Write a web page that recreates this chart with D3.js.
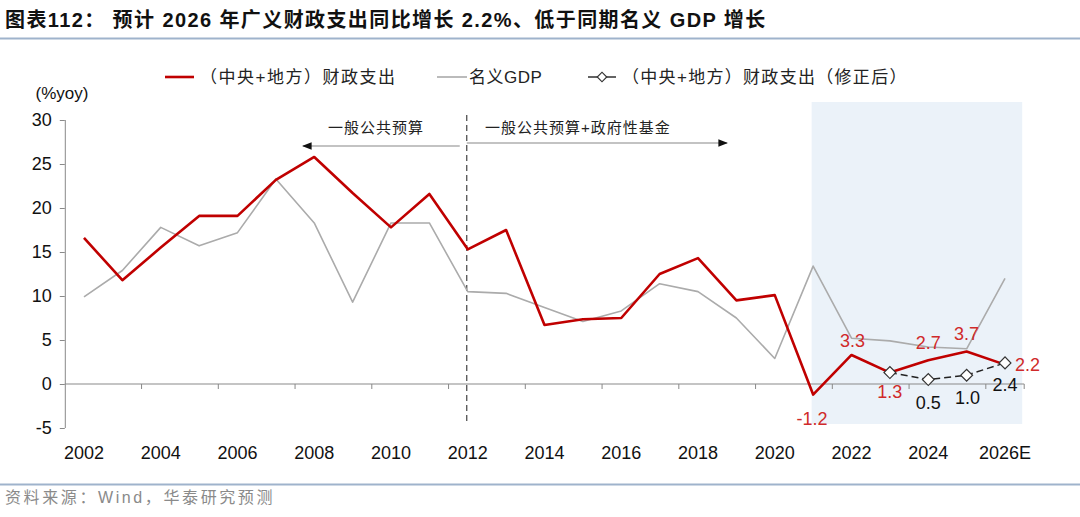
<!DOCTYPE html>
<html><head><meta charset="utf-8">
<script src="https://cdn.jsdelivr.net/npm/d3@7/dist/d3.min.js"></script>
<style>
html,body{margin:0;padding:0;background:#fff;}
svg{display:block;}
text{font-family:"Liberation Sans",Arial,"Noto Sans CJK SC",sans-serif;}
.cjk{font-family:"Liberation Sans","Noto Sans CJK SC",sans-serif;}
</style></head>
<body>
<script>
const years = ["2002","2003","2004","2005","2006","2007","2008","2009","2010","2011","2012","2013","2014","2015","2016","2017","2018","2019","2020","2021","2022","2023","2024","2025","2026E"];
const xTickLabels = ["2002","2004","2006","2008","2010","2012","2014","2016","2018","2020","2022","2024","2026E"];
const fiscal = [16.6,11.8,15.5,19.1,19.1,23.2,25.8,21.7,17.8,21.6,15.3,17.5,6.7,7.35,7.5,12.5,14.3,9.5,10.1,-1.2,3.3,1.3,2.7,3.7,2.2];
const gdp = [9.9,12.9,17.8,15.7,17.2,23.3,18.3,9.3,18.3,18.3,10.5,10.3,8.7,7.1,8.3,11.4,10.5,7.5,2.9,13.4,5.2,4.9,4.2,4.0,12.0];
const adjYears = ["2023","2024","2025","2026E"];
const adjusted = [1.3,0.5,1.0,2.4];
const fiscalLabelYears = ["2021","2022","2023","2024","2025","2026E"];
const adjLabelYears = ["2024","2025","2026E"];
const yTicks = [-5,0,5,10,15,20,25,30];
const seriesNames = ["（中央+地方）财政支出","名义GDP","（中央+地方）财政支出（修正后）"];
const titleText = "图表112：  预计 2026 年广义财政支出同比增长 2.2%、低于同期名义 GDP 增长";
const sourceText = "资料来源：Wind，华泰研究预测";
const yUnit = "(%yoy)";
const annoLeft = "一般公共预算";
const annoRight = "一般公共预算+政府性基金";
const shadeFrom = "2021", shadeTo = "2026E";
const splitYear = "2012";

const W = 1080, H = 517;
const RED = "#C00000", LBL_RED = "#D02A2A", GRAY = "#ABABAB", AXIS = "#898989";
const svg = d3.select("body").append("svg").attr("width", W).attr("height", H);

const x = d3.scaleBand().domain(years).range([64.8, 1024.2]).padding(0);
const cx = d => x(d) + x.bandwidth()/2;
const y = d3.scaleLinear().domain([-5, 30]).range([428, 120]);
const fmt = v => { const s = Math.abs(v).toFixed(1); return (v < 0 ? "-" : "") + s; };

// title
svg.append("text").attr("x", 5).attr("y", 27).attr("font-size", 20).attr("font-weight", "bold")
  .attr("class","cjk").attr("letter-spacing", 1.4).attr("fill", "#111").text(titleText);
svg.append("line").attr("x1", 0).attr("x2", W).attr("y1", 38.5).attr("y2", 38.5)
  .attr("stroke", "#9fb3cc").attr("stroke-width", 2);

// shaded forecast area
svg.append("rect").attr("x", cx(shadeFrom) - 1.5).attr("y", 102)
  .attr("width", x(shadeTo) + x.bandwidth() - 2 - (cx(shadeFrom) - 1.5)).attr("height", 322)
  .attr("fill", "#EBF2F9");

// y axis
const yAxis = d3.axisLeft(y).tickValues(yTicks).tickSize(5).tickPadding(8).tickFormat(d => String(d));
const ya = svg.append("g").attr("transform", "translate(64.8,0)").call(yAxis);
ya.select(".domain").attr("stroke", AXIS).attr("d", "M0.5,120V428");
ya.selectAll(".tick line").attr("stroke", AXIS);
ya.selectAll(".tick text").attr("font-size", 18).attr("fill", "#111").attr("font-family", "Liberation Sans, Arial");

// x axis at zero
const xa = svg.append("g").attr("transform", `translate(0,${y(0)})`);
xa.append("line").attr("x1", 64.8).attr("x2", 1024.2).attr("stroke", AXIS);
const tickPos = years.filter((d,i)=> i%2===0 && i>0).map(d => x(d)).concat([1024.2]);
xa.selectAll("line.tk").data(tickPos).join("line").attr("class","tk")
  .attr("x1", d=>d).attr("x2", d=>d).attr("y1", 0).attr("y2", 5).attr("stroke", AXIS);
svg.append("g").selectAll("text").data(xTickLabels).join("text")
  .attr("x", d => cx(d)).attr("y", 459).attr("text-anchor","middle")
  .attr("font-size", 18).attr("fill", "#111").text(d => d);

// y unit
svg.append("text").attr("x", 62).attr("y", 99).attr("text-anchor","middle")
  .attr("font-size", 17).attr("fill","#111").text(yUnit);

// split line
svg.append("line").attr("x1", cx(splitYear)-1).attr("x2", cx(splitYear)-1).attr("y1", 115).attr("y2", 425)
  .attr("stroke", "#444").attr("stroke-width", 1.2).attr("stroke-dasharray", "6,4");

// annotation arrows
const defs = svg.append("defs");
defs.append("marker").attr("id","ah").attr("viewBox","0 0 10 10").attr("refX",9).attr("refY",5)
  .attr("markerWidth",8).attr("markerHeight",8).attr("orient","auto-start-reverse")
  .append("path").attr("d","M0,1L10,5L0,9Z").attr("fill","#111");
svg.append("line").attr("x1", cx(splitYear)-8).attr("x2", 303).attr("y1", 146).attr("y2", 146)
  .attr("stroke","#888").attr("stroke-width",1.2).attr("marker-end","url(#ah)");
svg.append("line").attr("x1", cx(splitYear)-1).attr("x2", 727).attr("y1", 143).attr("y2", 143)
  .attr("stroke","#888").attr("stroke-width",1.2).attr("marker-end","url(#ah)");
svg.append("text").attr("x", 376).attr("y", 133).attr("text-anchor","middle").attr("class","cjk")
  .attr("font-size", 15).attr("letter-spacing", 1).attr("fill","#222").text(annoLeft);
svg.append("text").attr("x", 578).attr("y", 133).attr("text-anchor","middle").attr("class","cjk")
  .attr("font-size", 15).attr("letter-spacing", 1).attr("fill","#222").text(annoRight);

// lines
const line = d3.line().x(d => cx(d[0])).y(d => y(d[1]));
svg.append("path").datum(years.map((d,i)=>[d,gdp[i]])).attr("d", line)
  .attr("fill","none").attr("stroke", GRAY).attr("stroke-width", 1.6).attr("stroke-linejoin","round");
svg.append("path").datum(years.map((d,i)=>[d,fiscal[i]])).attr("d", line)
  .attr("fill","none").attr("stroke", RED).attr("stroke-width", 2.6).attr("stroke-linejoin","round");
const adjData = adjYears.map((d,i)=>[d,adjusted[i]]);
svg.append("path").datum(adjData).attr("d", line)
  .attr("fill","none").attr("stroke", "#222").attr("stroke-width", 1.4).attr("stroke-dasharray","7,4");
svg.append("g").selectAll("path").data(adjData).join("path")
  .attr("transform", d => `translate(${cx(d[0])},${y(d[1])}) rotate(45)`)
  .attr("d", d3.symbol().type(d3.symbolSquare).size(70))
  .attr("fill","#fff").attr("stroke","#333").attr("stroke-width",1.2);

// data labels
const fPlace = {"2021":[-1,30,"middle"],"2022":[1,-8,"middle"],"2023":[0,25,"middle"],"2024":[0,-11,"middle"],"2025":[0,-11,"middle"],"2026E":[10,6,"start"]};
svg.append("g").selectAll("text").data(fiscalLabelYears).join("text")
  .attr("x", d => cx(d) + fPlace[d][0]).attr("y", d => y(fiscal[years.indexOf(d)]) + fPlace[d][1])
  .attr("text-anchor", d => fPlace[d][2]).attr("font-size", 18).attr("fill", LBL_RED)
  .text(d => fmt(fiscal[years.indexOf(d)]));
const aPlace = {"2024":[0,29],"2025":[1,29],"2026E":[0,28]};
svg.append("g").selectAll("text").data(adjLabelYears).join("text")
  .attr("x", d => cx(d) + aPlace[d][0]).attr("y", d => y(adjusted[adjYears.indexOf(d)]) + aPlace[d][1])
  .attr("text-anchor", "middle").attr("font-size", 18).attr("fill", "#111")
  .text(d => fmt(adjusted[adjYears.indexOf(d)]));

// legend
const lg = svg.append("g").attr("class","cjk");
lg.append("line").attr("x1",165).attr("x2",194).attr("y1",77).attr("y2",77).attr("stroke",RED).attr("stroke-width",2.6);
lg.append("text").attr("x",200).attr("y",83).attr("font-size",17).attr("fill","#222").attr("letter-spacing",1.5).text(seriesNames[0]);
lg.append("line").attr("x1",437).attr("x2",467).attr("y1",77).attr("y2",77).attr("stroke",GRAY).attr("stroke-width",1.6);
lg.append("text").attr("x",469).attr("y",83).attr("font-size",17).attr("fill","#222").attr("letter-spacing",0.5).text(seriesNames[1]);
lg.append("line").attr("x1",588).attr("x2",616).attr("y1",77).attr("y2",77).attr("stroke","#222").attr("stroke-width",1.4);
lg.append("path").attr("transform","translate(602,77) rotate(45)").attr("d", d3.symbol().type(d3.symbolSquare).size(45))
  .attr("fill","#fff").attr("stroke","#333").attr("stroke-width",1.2);
lg.append("text").attr("x",622).attr("y",83).attr("font-size",17).attr("fill","#222").attr("letter-spacing",1.3).text(seriesNames[2]);

// footer
svg.append("line").attr("x1", 0).attr("x2", W).attr("y1", 484.5).attr("y2", 484.5)
  .attr("stroke", "#9fb3cc").attr("stroke-width", 2);
svg.append("text").attr("x", 5).attr("y", 503).attr("font-size", 16).attr("class","cjk")
  .attr("letter-spacing", 2.6).attr("fill", "#8a8a8a").text(sourceText);
</script>
</body></html>
